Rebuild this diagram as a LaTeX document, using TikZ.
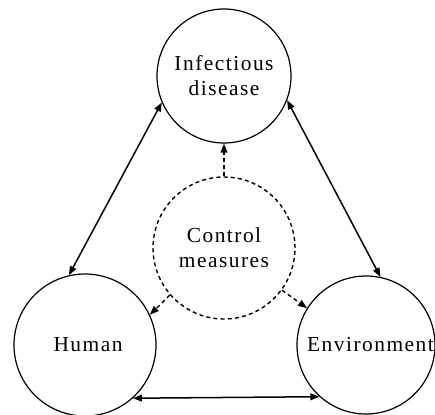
\documentclass[tikz,border=0pt]{standalone}
\usepackage{fontspec}
\setmainfont{Liberation Serif}[LetterSpace=7]
\usetikzlibrary{arrows.meta}
\begin{document}
\begin{tikzpicture}[x=0.5pt,y=-0.5pt,
  bub/.style={circle,draw,line width=0.6pt,inner sep=0pt,align=center,
    font=\fontsize{10.7}{12.5}\selectfont},
  rel/.style={line width=0.75pt,{Triangle[length=4.5pt,width=3.4pt]}-{Triangle[length=4.5pt,width=3.4pt]}},
  ctl/.style={line width=0.7pt,dash pattern=on 2pt off 1.6pt,-{Triangle[length=4.5pt,width=3.4pt]}}
]
\useasboundingbox (0,0) rectangle (435,414);
\clip (0,0) rectangle (435,414);
\node[bub,minimum size=67pt] (inf) at (224,76) {Infectious\\disease};
\node[bub,minimum size=71pt,line width=0.7pt,dash pattern=on 2pt off 1.6pt] (ctrl) at (224,248) {Control\\measures};
\node[bub,minimum size=71pt] (hum) at (85,345) {\makebox[0pt][c]{\hspace*{3pt}Human}};
\node[bub,minimum size=69pt] (env) at (366,345) {\makebox[0pt][c]{\hspace*{4.5pt}Environment}};
\draw[rel] (inf.203) -- (hum.103);
\draw[rel] (inf.339) -- (env.78);
\draw[rel] (hum.312) -- (env.228);
\draw[ctl] (ctrl.90) -- (inf.270);
\draw[ctl] (ctrl.221) -- (hum.25);
\draw[ctl] (ctrl.324) -- (env.148);
\end{tikzpicture}
\end{document}
